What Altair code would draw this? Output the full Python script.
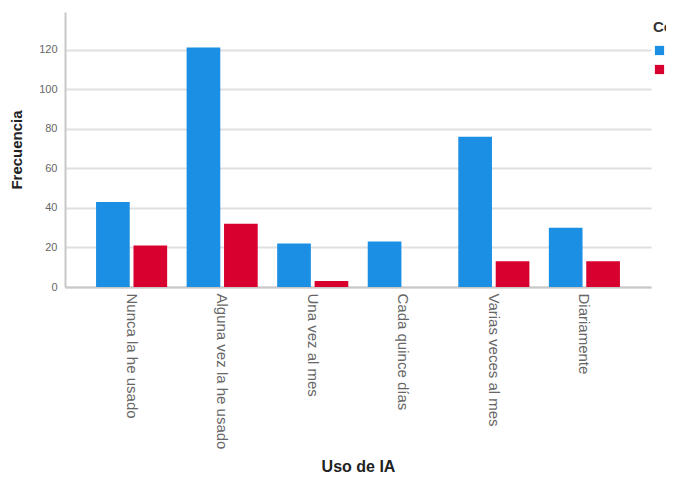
import altair as alt
import pandas as pd

categories = ["Nunca la he usado", "Alguna vez la he usado", "Una vez al mes",
              "Cada quince días", "Varias veces al mes", "Diariamente"]
groups = ["Estudiante", "Profesor"]
values_a = [43, 121, 22, 23, 76, 30]
values_b = [21, 32, 3, 0, 13, 13]
colors = ["#1a8fe3", "#d7002f"]

rows = []
for c, a, b in zip(categories, values_a, values_b):
    rows.append({"uso": c, "grupo": groups[0], "freq": a})
    rows.append({"uso": c, "grupo": groups[1], "freq": b})
df = pd.DataFrame(rows)

font = "Liberation Sans"

chart = alt.Chart(df).mark_bar().encode(
    x=alt.X("uso:N", sort=categories, title="Uso de IA",
            scale=alt.Scale(paddingInner=0.215, paddingOuter=0.343),
            axis=alt.Axis(labelAngle=90, labelAlign="left", labelBaseline="middle",
                          labelPadding=6, ticks=False, domainColor="#c8c8c8",
                          domainWidth=2, labelColor="#666666", labelFontSize=15,
                          labelFont=font, titleFont=font, titleFontSize=16,
                          titleFontWeight="bold", titleColor="#222222",
                          titlePadding=10, labelLimit=300)),
    xOffset=alt.XOffset("grupo:N", sort=groups,
                        scale=alt.Scale(paddingInner=0.1, paddingOuter=0)),
    y=alt.Y("freq:Q", title="Frecuencia",
            scale=alt.Scale(domain=[0, 139], nice=False),
            axis=alt.Axis(values=[0, 20, 40, 60, 80, 100, 120], ticks=False,
                          domainColor="#c8c8c8", domainWidth=2,
                          gridColor="#e0e0e0", gridWidth=2,
                          labelColor="#666666", labelFontSize=11, labelFont=font,
                          labelPadding=8, titleFont=font, titleFontSize=15,
                          titleFontWeight="bold", titleColor="#222222",
                          titlePadding=14)),
    color=alt.Color("grupo:N", sort=groups,
                    scale=alt.Scale(domain=groups, range=colors),
                    legend=alt.Legend(title="Condición", orient="none",
                                      legendX=588, legendY=8,
                                      symbolType="square", symbolSize=85,
                                      labelOffset=3,
                                      titleFont=font, titleFontSize=15,
                                      titleFontWeight="bold", titleColor="#333333",
                                      titlePadding=9,
                                      labelFont=font, labelFontSize=13,
                                      labelColor="#555555", rowPadding=5)),
).properties(
    width=586, height=275,
    autosize=alt.AutoSizeParams(type="none"),
    padding={"left": 57, "top": 4, "right": 15, "bottom": 205},
).configure_view(stroke=None)

chart.save("out.html", embed_options={"renderer": "svg", "actions": False})
